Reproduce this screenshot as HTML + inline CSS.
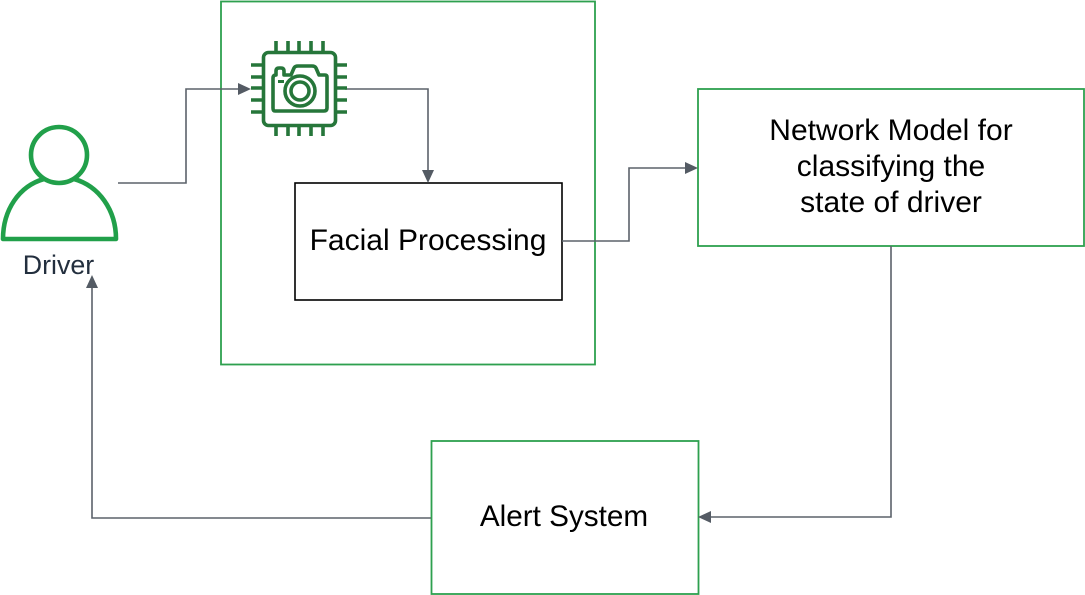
<!DOCTYPE html>
<html><head><meta charset="utf-8"><style>
html,body{margin:0;padding:0;background:#fff}
svg{display:block}
text{font-family:"Liberation Sans",Arial,sans-serif;fill:#000}
</style></head><body>
<svg width="1085" height="595" viewBox="0 0 1085 595" xmlns="http://www.w3.org/2000/svg">
<g fill="none" stroke="#2ea04f" stroke-width="1.8">
<rect x="221" y="1.5" width="374" height="363"/>
<rect x="698" y="89" width="386" height="157"/>
<rect x="431.5" y="441" width="267" height="153"/>
</g>
<rect x="295" y="183" width="267" height="117" fill="#fff" stroke="#000" stroke-width="1.6"/>
<g fill="none" stroke="#5b626a" stroke-width="1.6">
<path d="M118 183H186V89H240"/>
<path d="M345 89H428V172"/>
<path d="M562 241H629V168H686"/>
<path d="M891 246V517H710"/>
<path d="M431 518H92V288"/>
</g>
<g fill="#545b64">
<path d="M251 89L238 83V95Z"/>
<path d="M428 183L422 170H434Z"/>
<path d="M698 168L685 162V174Z"/>
<path d="M698 517L711 511V523Z"/>
<path d="M92 275L86 288H98Z"/>
</g>
<!-- driver -->
<g fill="none" stroke="#21a04a" stroke-width="4.6">
<circle cx="59" cy="155" r="28"/>
<path d="M44 179C19 186 3 210 3 239H116C116 210 99 186 74 179" stroke-linejoin="round"/>
</g>
<!-- chip -->
<g fill="none" stroke="#26763a" stroke-width="3.6">
<rect x="263.5" y="52.5" width="72" height="73" rx="5"/>
<path d="M276 41V52M288 41V52M299 41V52M311 41V52M323 41V52M276 125V136M288 125V136M299 125V136M311 125V136M323 125V136M251 65H263M251 77H263M251 88H263M251 100H263M251 112H263M335 65H347M335 77H347M335 88H347M335 100H347M335 112H347"/>
<path d="M276 75V71Q276 68 279 68H281Q284 68 284 71V75H291L294 68Q295 66 298 66H312Q315 66 316 68L319 75H325Q327 75 327 77V108Q327 111 324 111H275Q273 111 273 108V78Q273 75 276 75Z" stroke-linejoin="round"/>
<circle cx="300" cy="91" r="15"/>
<circle cx="300" cy="91" r="9"/>
<path d="M278 81.5H284" stroke-width="3"/>
</g>
<text x="58.5" y="274" font-size="26.8" text-anchor="middle" style="fill:#232f3e">Driver</text>
<text x="428" y="250" font-size="30" text-anchor="middle">Facial Processing</text>
<g font-size="30" text-anchor="middle">
<text x="891" y="140">Network Model for</text>
<text x="891" y="176">classifying the</text>
<text x="891" y="212">state of driver</text>
</g>
<text x="564" y="526" font-size="29.7" text-anchor="middle">Alert System</text>
</svg>
</body></html>
